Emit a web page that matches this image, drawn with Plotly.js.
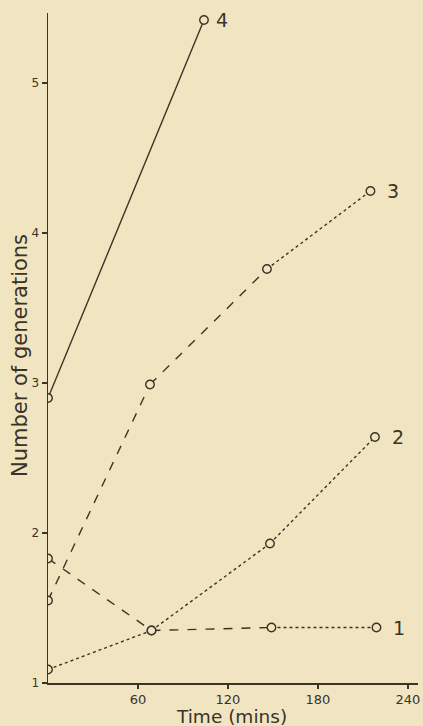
<!DOCTYPE html>
<html>
<head>
<meta charset="utf-8">
<script src="https://cdn.plot.ly/plotly-3.0.1.min.js"></script>
<style>
  html, body { margin: 0; padding: 0; background: #f1e5c1; }
  #chart { width: 423px; height: 726px; }
</style>
</head>
<body>
<div id="chart"></div>
<script>
// ---- Data ----
const seriesNames = ["1", "2", "3", "4"];
const time1 = [0, 69, 149, 219];
const gen1  = [1.83, 1.35, 1.37, 1.37];
const time2 = [0, 69, 148, 218];
const gen2  = [1.09, 1.35, 1.93, 2.64];
const time3 = [0, 68, 146, 215];
const gen3  = [1.55, 2.99, 3.76, 4.28];
const time4 = [0, 104];
const gen4  = [2.90, 5.42];
const xTicks = [60, 120, 180, 240];
const yTicks = [1, 2, 3, 4, 5];

// ---- Styles (per segment line dash) ----
const segDash = [
  ["dash", "dash", "dot"],
  ["dot", "dot", "dot"],
  ["dash", "dash", "dot"],
  ["solid"]
];

const INK = "#3a3327";
const BG = "#f1e5c1";
const FONT = "'DejaVu Sans', sans-serif";

const series = [
  {x: time1, y: gen1},
  {x: time2, y: gen2},
  {x: time3, y: gen3},
  {x: time4, y: gen4}
];

const traces = [];
series.forEach((s, si) => {
  for (let i = 0; i < s.x.length - 1; i++) {
    traces.push({
      x: [s.x[i], s.x[i + 1]],
      y: [s.y[i], s.y[i + 1]],
      mode: "lines",
      line: {color: INK, width: 1.4, dash: segDash[si][i]},
      hoverinfo: "skip",
      showlegend: false
    });
  }
});
series.forEach((s) => {
  traces.push({
    x: s.x, y: s.y,
    mode: "markers",
    marker: {symbol: "circle", size: 8.5, color: BG, line: {color: INK, width: 1.4}},
    showlegend: false
  });
});

const annotations = series.map((s, si) => ({
  x: s.x[s.x.length - 1],
  y: s.y[s.y.length - 1],
  xref: "x", yref: "y",
  text: seriesNames[si],
  showarrow: false,
  xanchor: "center", yanchor: "middle",
  xshift: si === 3 ? 18 : 23,
  font: {family: FONT, size: 19, color: INK}
}));

annotations.push({
  xref: "paper", yref: "paper",
  x: 0, y: 0.488,
  xshift: -28,
  text: "Number of generations",
  textangle: -90,
  showarrow: false,
  xanchor: "center", yanchor: "middle",
  font: {family: FONT, size: 21, color: INK}
});
annotations.push({
  xref: "paper", yref: "paper",
  x: 0.497, y: 0,
  yshift: -33,
  text: "Time (mins)",
  showarrow: false,
  xanchor: "center", yanchor: "middle",
  font: {family: FONT, size: 18.5, color: INK}
});

const layout = {
  width: 423, height: 726,
  margin: {l: 48, r: 5, t: 13, b: 43},
  paper_bgcolor: BG,
  plot_bgcolor: BG,
  showlegend: false,
  xaxis: {
    range: [0, 246.7],
    tickvals: xTicks,
    ticktext: xTicks.map(String),
    showline: true, linecolor: INK, linewidth: 1.5,
    ticks: "outside", ticklen: 4, tickcolor: INK, tickwidth: 1.2,
    showgrid: false, zeroline: false,
    tickfont: {family: FONT, size: 13, color: INK}
  },
  yaxis: {
    range: [1, 5.467],
    tickvals: yTicks,
    ticktext: yTicks.map(String),
    showline: true, linecolor: INK, linewidth: 1.5,
    ticks: "outside", ticklen: 5, tickcolor: INK, tickwidth: 1.2,
    showgrid: false, zeroline: false,
    tickfont: {family: FONT, size: 12, color: INK}
  },
  annotations: annotations
};

Plotly.newPlot("chart", traces, layout, {displayModeBar: false, staticPlot: true});
</script>
</body>
</html>
